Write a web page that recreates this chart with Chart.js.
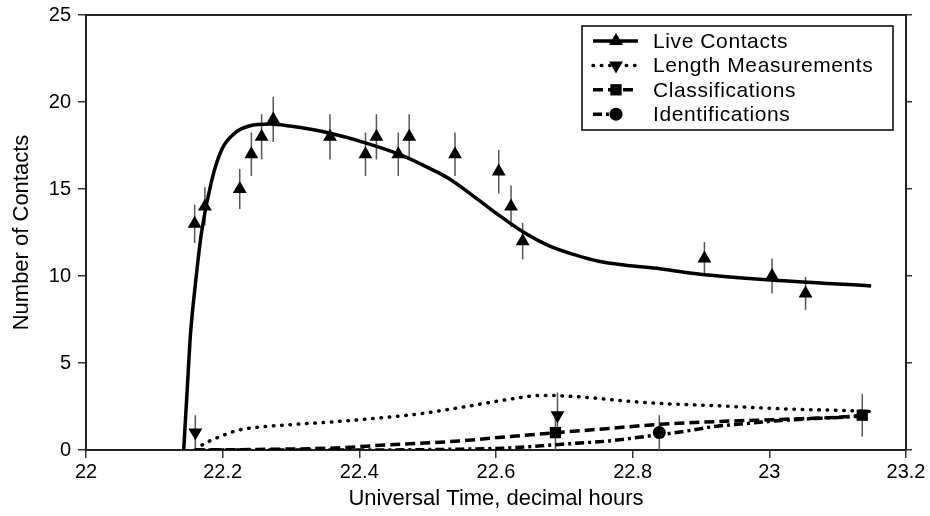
<!DOCTYPE html>
<html>
<head>
<meta charset="utf-8">
<script src="https://cdn.jsdelivr.net/npm/chart.js"></script>
<style>
  body { margin: 0; background: #fff; }
  #wrap { width: 930px; height: 516px; }
</style>
</head>
<body>
<div id="wrap"><canvas id="myChart" width="930" height="516"></canvas></div>
<script>
// axis ticks
const xTicks = [22, 22.2, 22.4, 22.6, 22.8, 23, 23.2];
const xTickLabels = ['22', '22.2', '22.4', '22.6', '22.8', '23', '23.2'];
const yTicks = [0, 5, 10, 15, 20, 25];

// measured points (time, count, error)
const liveT = [22.159, 22.174, 22.225, 22.242, 22.257, 22.274, 22.357, 22.409, 22.425, 22.457, 22.473, 22.540, 22.604, 22.622, 22.639, 22.905, 23.004, 23.053];
const live = [13, 14, 15, 17, 18, 19, 18, 17, 18, 17, 18, 17, 16, 14, 12, 11, 10, 9];
const liveErr = [1.1, 1.1, 1.15, 1.25, 1.3, 1.3, 1.3, 1.25, 1.3, 1.25, 1.3, 1.25, 1.25, 1.2, 1.05, 0.95, 1.0, 0.95];

const lengthT = [22.16, 22.69];
const lengthVals = [1, 2];
const lengthErr = [1.0, 1.3];

const classT = [22.687, 23.136];
const classVals = [1, 2];
const classErr = [1.0, 1.23];

const identT = [22.839];
const identVals = [1];
const identErr = [1.0];

// fitted curves
const liveFitT = [22.143, 22.148, 22.153, 22.160, 22.169, 22.184, 22.199, 22.22, 22.239, 22.27, 22.298, 22.356, 22.41, 22.458, 22.502, 22.531, 22.565, 22.604, 22.641, 22.677, 22.717, 22.75, 22.79, 22.84, 22.896, 23.003, 23.149];
const liveFit = [0, 3.4, 6.7, 9.5, 12.5, 15.5, 17.3, 18.28, 18.62, 18.73, 18.62, 18.22, 17.64, 17.0, 16.2, 15.6, 14.65, 13.5, 12.5, 11.75, 11.2, 10.85, 10.62, 10.42, 10.12, 9.77, 9.43];

const lengthFitT = [22.16, 22.166, 22.176, 22.196, 22.22, 22.244, 22.293, 22.366, 22.439, 22.488, 22.546, 22.619, 22.667, 22.692, 22.74, 22.789, 22.838, 22.92, 23.018, 23.115, 23.153];
const lengthFit = [0, 0.19, 0.42, 0.77, 1.11, 1.28, 1.44, 1.63, 1.88, 2.08, 2.43, 2.91, 3.14, 3.12, 3.0, 2.82, 2.68, 2.55, 2.37, 2.26, 2.2];

const classFitT = [22.16, 22.25, 22.366, 22.439, 22.488, 22.546, 22.619, 22.687, 22.765, 22.838, 22.92, 23.018, 23.115, 23.136];
const classFit = [0, 0.03, 0.12, 0.29, 0.38, 0.52, 0.77, 0.99, 1.24, 1.47, 1.63, 1.76, 1.92, 2.0];

const identFitT = [22.16, 22.4, 22.55, 22.62, 22.692, 22.765, 22.823, 22.872, 22.92, 22.969, 23.018, 23.115, 23.136];
const identFit = [0, 0, 0.05, 0.12, 0.32, 0.52, 0.8, 1.05, 1.35, 1.53, 1.7, 1.9, 1.95];

const legendNames = ['Live Contacts', 'Length Measurements', 'Classifications', 'Identifications'];

const xy = (ts, vs) => ts.map((t, i) => ({ x: t, y: vs[i] }));

Chart.defaults.font.family = "'Liberation Sans', Arial, sans-serif";
Chart.defaults.color = '#000';

function curve(ts, vs, dash, cap) {
  return {
    type: 'line',
    data: xy(ts, vs),
    borderColor: '#000',
    borderWidth: 3.5,
    borderDash: dash,
    borderCapStyle: cap || 'butt',
    pointRadius: 0,
    cubicInterpolationMode: 'monotone',
    fill: false
  };
}

function marks(ts, vs, errs, style, radius, rotation) {
  return {
    type: 'scatter',
    data: xy(ts, vs),
    errors: errs,
    pointStyle: style,
    pointRadius: radius,
    pointRotation: rotation || 0,
    backgroundColor: '#000',
    borderColor: '#000',
    borderWidth: 0
  };
}

// vertical error bars behind the markers
const errorBars = {
  id: 'errorBars',
  beforeDatasetsDraw(chart) {
    const ctx = chart.ctx;
    const x = chart.scales.x, y = chart.scales.y;
    ctx.save();
    ctx.strokeStyle = '#555';
    ctx.lineWidth = 1.5;
    chart.data.datasets.forEach(ds => {
      if (!ds.errors) return;
      ds.data.forEach((p, i) => {
        const px = x.getPixelForValue(p.x);
        ctx.beginPath();
        ctx.moveTo(px, y.getPixelForValue(Math.max(0, p.y - ds.errors[i])));
        ctx.lineTo(px, y.getPixelForValue(p.y + ds.errors[i]));
        ctx.stroke();
      });
    });
    ctx.restore();
  }
};

function drawMarker(ctx, style, x, y, r, rot) {
  ctx.beginPath();
  if (style === 'triangle') {
    let a = rot * Math.PI / 180;
    ctx.moveTo(x + Math.sin(a) * r, y - Math.cos(a) * r);
    a += 2 * Math.PI / 3;
    ctx.lineTo(x + Math.sin(a) * r, y - Math.cos(a) * r);
    a += 2 * Math.PI / 3;
    ctx.lineTo(x + Math.sin(a) * r, y - Math.cos(a) * r);
    ctx.closePath();
  } else if (style === 'rect') {
    const s = r * Math.SQRT1_2;
    ctx.rect(x - s, y - s, 2 * s, 2 * s);
  } else {
    ctx.arc(x, y, r, 0, Math.PI * 2);
  }
  ctx.fill();
}

// boxed legend inside the plot, top right
const boxLegend = {
  id: 'boxLegend',
  afterDraw(chart) {
    const ctx = chart.ctx;
    const ds = chart.data.datasets;
    const left = 582, top = 26, w = 311, h = 104;
    ctx.save();
    ctx.fillStyle = '#fff';
    ctx.fillRect(left, top, w, h);
    ctx.strokeStyle = '#000';
    ctx.lineWidth = 1.5;
    ctx.strokeRect(left, top, w, h);
    legendNames.forEach((name, i) => {
      const line = ds[i * 2], pts = ds[i * 2 + 1];
      const cy = 41 + i * 24.4;
      // the dash-dot sample stops at its marker, as in the original key
      const end = i === 3 ? 616 : 638;
      ctx.strokeStyle = '#000';
      ctx.lineWidth = 3.5;
      ctx.lineCap = line.borderCapStyle;
      ctx.setLineDash(line.borderDash || []);
      ctx.beginPath();
      ctx.moveTo(593, cy);
      ctx.lineTo(end, cy);
      ctx.stroke();
      ctx.setLineDash([]);
      ctx.fillStyle = '#000';
      drawMarker(ctx, pts.pointStyle, 616, cy, pts.pointRadius, pts.pointRotation);
      ctx.font = "21px 'Liberation Sans', Arial, sans-serif";
      ctx.letterSpacing = '0.6px';
      ctx.textBaseline = 'middle';
      ctx.textAlign = 'left';
      ctx.fillText(name, 653, cy + 1);
    });
    ctx.restore();
  }
};

const axisBorder = { display: true, color: '#222', width: 2 };
const noPad = s => { s.paddingTop = 0; s.paddingBottom = 0; };

new Chart(document.getElementById('myChart'), {
  data: {
    datasets: [
      curve(liveFitT, liveFit, []),
      marks(liveT, live, liveErr, 'triangle', 8),
      curve(lengthFitT, lengthFit, [0.5, 7.8], 'round'),
      marks(lengthT, lengthVals, lengthErr, 'triangle', 8, 180),
      curve(classFitT, classFit, [10, 5]),
      marks(classT, classVals, classErr, 'rect', 8),
      curve(identFitT, identFit, [9, 4, 3, 4]),
      marks(identT, identVals, identErr, 'circle', 6.5)
    ]
  },
  options: {
    responsive: false,
    animation: false,
    layout: { padding: 0 },
    plugins: {
      legend: { display: false },
      tooltip: { enabled: false }
    },
    scales: {
      x: {
        type: 'linear',
        position: 'bottom',
        min: 22,
        max: 23.2,
        afterBuildTicks: s => { s.ticks = xTicks.map(v => ({ value: v })); },
        afterFit: s => { s.height = 66; },
        ticks: {
          font: { size: 20 },
          padding: 2,
          maxRotation: 0,
          autoSkip: false,
          callback: (v, i) => xTickLabels[i]
        },
        grid: { drawOnChartArea: false, tickLength: 8, color: '#333', lineWidth: 1.5 },
        border: axisBorder,
        title: {
          display: true,
          text: 'Universal Time, decimal hours',
          font: { size: 22 },
          padding: { top: 0, bottom: 4 }
        }
      },
      xTop: {
        type: 'linear',
        position: 'top',
        min: 22,
        max: 23.2,
        afterFit: s => { s.height = 15; },
        ticks: { display: false },
        grid: { drawOnChartArea: false, drawTicks: false },
        border: axisBorder
      },
      y: {
        type: 'linear',
        position: 'left',
        min: 0,
        max: 25,
        afterBuildTicks: s => { s.ticks = yTicks.map(v => ({ value: v })); },
        afterFit: s => { s.width = 86; noPad(s); },
        ticks: { font: { size: 20 }, padding: 7 },
        grid: { drawOnChartArea: false, tickLength: 8, color: '#333', lineWidth: 1.5 },
        border: axisBorder,
        title: {
          display: true,
          text: 'Number of Contacts',
          font: { size: 22 },
          padding: { top: 9, bottom: 0 }
        }
      },
      yRight: {
        type: 'linear',
        position: 'right',
        min: 0,
        max: 25,
        afterBuildTicks: s => { s.ticks = yTicks.map(v => ({ value: v })); },
        afterFit: s => { s.width = 24; noPad(s); },
        ticks: { display: false },
        grid: { drawOnChartArea: false, tickLength: 6, color: '#333', lineWidth: 1.5 },
        border: axisBorder
      }
    }
  },
  plugins: [errorBars, boxLegend]
});
</script>
</body>
</html>
